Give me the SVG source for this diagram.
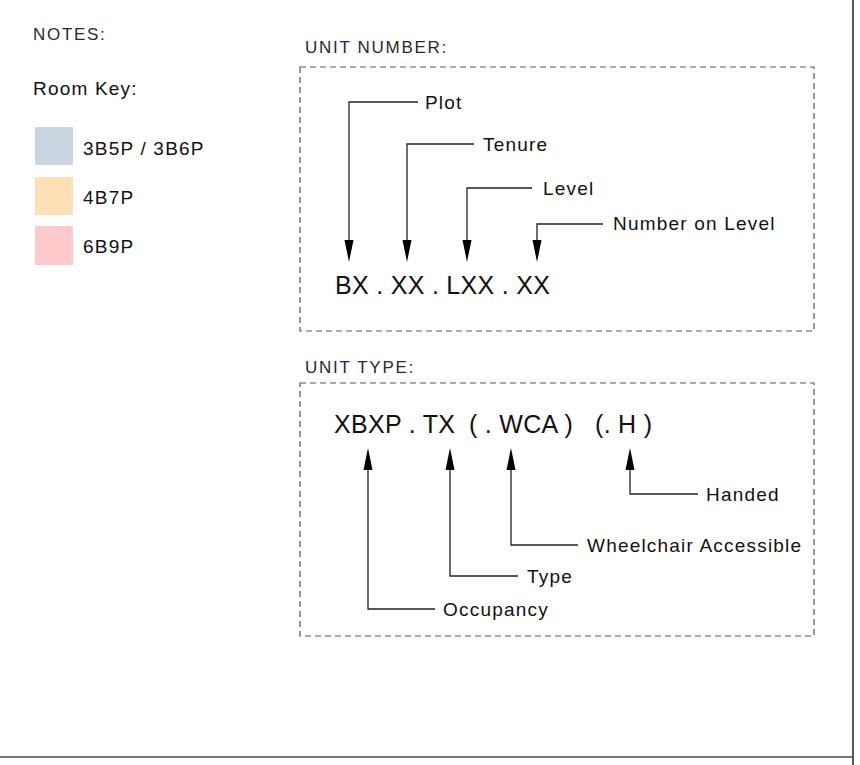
<svg xmlns="http://www.w3.org/2000/svg" width="860" height="765" viewBox="0 0 860 765">
<defs>
<style>
text{font-family:"Liberation Sans",Arial,sans-serif;fill:#111}
.lbl{font-size:19px;letter-spacing:1.2px}
.code{font-size:25px;letter-spacing:0.3px}
.hdr{font-size:17px;letter-spacing:1.7px;fill:#2a2a2a}
.box{fill:none;stroke:#555;stroke-width:1.2;stroke-dasharray:6,4}
.ld{fill:none;stroke:#222;stroke-width:1.3}
</style>
<path id="arrowD" d="M-4.5,-22 L4.5,-22 L0,0 Z" fill="#000"/>
</defs>
<rect width="860" height="765" fill="#fff"/>
<line x1="0" y1="757" x2="853" y2="757" stroke="#777" stroke-width="2"/>
<line x1="853" y1="0" x2="853" y2="765" stroke="#222" stroke-width="1.5"/>

<g id="notes">
<text x="33" y="40" class="hdr">NOTES:</text>
<text x="33" y="95" class="lbl">Room Key:</text>
</g>
<g id="key-3b">
<rect x="35" y="127" width="38" height="38" fill="#cbd5e1"/>
<text x="83" y="155" class="lbl">3B5P / 3B6P</text>
</g>
<g id="key-4b">
<rect x="35" y="177" width="38" height="38" fill="#fde0b5"/>
<text x="83" y="204" class="lbl">4B7P</text>
</g>
<g id="key-6b">
<rect x="35" y="226" width="38" height="39" fill="#fecacc"/>
<text x="83" y="253" class="lbl">6B9P</text>
</g>

<g id="unit-number">
<text x="305" y="53" class="hdr">UNIT NUMBER:</text>
<rect x="300" y="67" width="514" height="264" class="box"/>
<text x="335" y="294" class="code">BX . XX . LXX . XX</text>
</g>
<g id="unit-type">
<text x="305" y="373" class="hdr">UNIT TYPE:</text>
<rect x="300" y="383" width="514" height="253" class="box"/>
<text y="433" class="code"><tspan x="334">XBXP . TX</tspan><tspan x="469">( . WCA )</tspan><tspan x="595">(. H )</tspan></text>
</g>

<g id="labels">
<text x="425" y="109" class="lbl">Plot</text>
<text x="483" y="151" class="lbl">Tenure</text>
<text x="543" y="195" class="lbl">Level</text>
<text x="613" y="230" class="lbl">Number on Level</text>
<text x="706" y="501" class="lbl">Handed</text>
<text x="587" y="552" class="lbl">Wheelchair Accessible</text>
<text x="527" y="583" class="lbl">Type</text>
<text x="443" y="616" class="lbl">Occupancy</text>
</g>

<g id="connectors">
<path class="ld" d="M418,102 H349 V245"/>
<use href="#arrowD" x="349" y="262"/>
<path class="ld" d="M474,144 H407 V245"/>
<use href="#arrowD" x="407" y="262"/>
<path class="ld" d="M532,188 H467 V245"/>
<use href="#arrowD" x="467" y="262"/>
<path class="ld" d="M603,224 H537 V245"/>
<use href="#arrowD" x="537" y="262"/>

<path class="ld" d="M435,609 H368 V465"/>
<use href="#arrowD" transform="translate(368,448) rotate(180)"/>
<path class="ld" d="M518,576 H450 V465"/>
<use href="#arrowD" transform="translate(450,448) rotate(180)"/>
<path class="ld" d="M578,545 H511 V465"/>
<use href="#arrowD" transform="translate(511,448) rotate(180)"/>
<path class="ld" d="M698,494 H630 V465"/>
<use href="#arrowD" transform="translate(630,448) rotate(180)"/>
</g>
</svg>
